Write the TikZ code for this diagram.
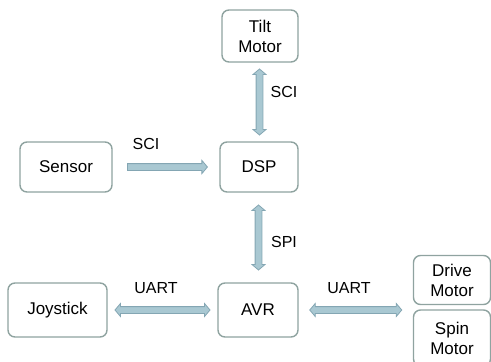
\documentclass[tikz,border=0pt]{standalone}
\usepackage{fontspec}
\setmainfont{Liberation Sans}
\usetikzlibrary{shapes.arrows}
\definecolor{boxline}{HTML}{8FA3A0}
\definecolor{arrfill}{HTML}{A9C8D2}
\definecolor{arrline}{HTML}{84A6B3}
\tikzset{
  blk/.style={draw=boxline, line width=1.4pt, rounded corners=7pt, fill=white,
    align=center, inner sep=0pt, font=\fontsize{17}{20}\selectfont},
  sarr/.style={single arrow, draw=arrline, fill=arrfill, line width=0.8pt,
    inner xsep=0pt, inner ysep=3pt, single arrow head extend=3.2pt,
    single arrow tip angle=100, anchor=center},
  darr/.style={double arrow, draw=arrline, fill=arrfill, line width=0.8pt,
    inner xsep=0pt, inner ysep=3pt, double arrow head extend=3.2pt,
    double arrow tip angle=100, anchor=center},
  lbl/.style={font=\fontsize{16}{19}\selectfont, inner sep=0pt}
}
\begin{document}
\begin{tikzpicture}[x=1pt,y=-1pt]
\useasboundingbox (0,0) rectangle (491,362);
\node[blk, minimum width=76pt, minimum height=52pt] (tilt) at (260,36) {Tilt\\Motor};
\node[blk, minimum width=92pt, minimum height=50pt] (sensor) at (66,167) {Sensor};
\node[blk, minimum width=78pt, minimum height=50pt] (dsp) at (259,167) {DSP};
\node[blk, minimum width=80pt, minimum height=54pt] (avr) at (258,310) {AVR};
\node[blk, minimum width=99pt, minimum height=54pt] (joy) at (57.5,310) {Joystick};
\node[blk, minimum width=77pt, minimum height=49pt] (drive) at (452,280) {Drive\\Motor};
\node[blk, minimum width=77pt, minimum height=56pt] (spin) at (452,338) {Spin\\Motor};

\path (tilt.south) -- node[darr, minimum height=66pt, rotate=90] (a1) {} (dsp.north);
\path (sensor.east) -- node[sarr, minimum height=80pt] (a2) {} (dsp.west);
\path (dsp.south) -- node[darr, minimum height=65pt, rotate=90] (a3) {} (avr.north);
\path (joy.east) -- node[darr, minimum height=95pt] (a4) {} (avr.west);
\path (avr.east) -- (avr.east -| drive.west) node[midway, darr, minimum height=92pt] (a5) {};

\node[lbl] (l1) at (284,92) {SCI};
\node[lbl] (l2) at (146,144) {SCI};
\node[lbl] (l3) at (284,242) {SPI};
\node[lbl] (l4) at (156,288) {UART};
\node[lbl] (l5) at (349,288) {UART};
\end{tikzpicture}
\end{document}
